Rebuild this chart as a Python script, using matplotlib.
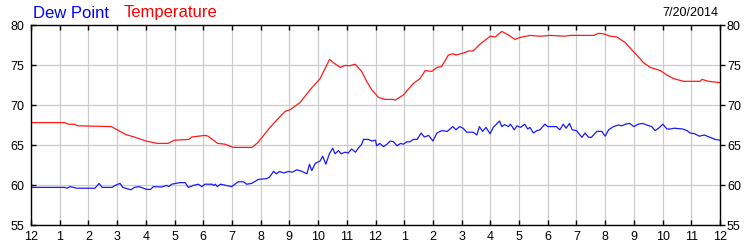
import matplotlib
matplotlib.use("Agg")
import matplotlib.pyplot as plt
from matplotlib.lines import TICKRIGHT

plt.rcParams["font.family"] = ["Liberation Sans", "DejaVu Sans"]

# hours since midnight
temp_hours = [0.0, 1.18, 1.3, 1.5, 1.64, 2.8, 3.3, 3.6, 4.0, 4.4, 4.77, 5.0, 5.5, 5.6,
              6.06, 6.17, 6.5, 6.76, 7.04, 7.7, 7.9, 8.26, 8.45, 8.85, 9.02, 9.37,
              9.72, 10.07, 10.4, 10.53, 10.77, 10.94, 11.1, 11.29, 11.52, 11.7,
              11.87, 12.1, 12.33, 12.62, 12.68, 12.97, 13.32, 13.55, 13.73, 13.96,
              14.14, 14.3, 14.54, 14.7, 14.8, 15.07, 15.24, 15.4, 15.64, 16.0,
              16.17, 16.4, 16.63, 16.86, 17.04, 17.39, 17.73, 18.08, 18.6, 18.78,
              19.6, 19.77, 19.94, 20.17, 20.41, 20.7, 20.98, 21.16, 21.33, 21.57,
              21.92, 22.15, 22.38, 22.73, 23.31, 23.37, 23.6, 24.0]
temperature = [67.8, 67.8, 67.6, 67.6, 67.4, 67.3, 66.3, 66.0, 65.5, 65.2, 65.2, 65.6,
               65.7, 66.0, 66.2, 66.1, 65.2, 65.1, 64.7, 64.7, 65.3, 66.9, 67.7,
               69.2, 69.4, 70.3, 71.9, 73.3, 75.7, 75.3, 74.7, 74.95, 74.9, 75.1,
               74.2, 72.9, 71.9, 70.96, 70.7, 70.7, 70.6, 71.25, 72.7, 73.3, 74.3,
               74.2, 74.7, 74.8, 76.25, 76.4, 76.25, 76.5, 76.75, 76.75, 77.6, 78.6,
               78.5, 79.2, 78.75, 78.2, 78.45, 78.7, 78.6, 78.7, 78.6, 78.7, 78.7,
               78.96, 78.9, 78.6, 78.5, 77.8, 76.7, 76.0, 75.3, 74.7, 74.3, 73.75,
               73.3, 72.96, 72.96, 73.2, 72.96, 72.8]

dew_hours = [0.0, 1.18, 1.25, 1.36, 1.59, 2.23, 2.37, 2.48, 2.83, 2.9, 3.1, 3.2, 3.48,
             3.6, 3.76, 4.03, 4.17, 4.26, 4.55, 4.73, 4.8, 4.9, 5.19, 5.37, 5.48,
             5.65, 5.83, 5.95, 6.06, 6.3, 6.37, 6.42, 6.49, 6.6, 6.99, 7.22, 7.4,
             7.51, 7.69, 7.92, 8.2, 8.3, 8.45, 8.55, 8.66, 8.8, 8.97, 9.1, 9.26,
             9.44, 9.61, 9.7, 9.78, 9.9, 10.07, 10.16, 10.27, 10.4, 10.51, 10.59,
             10.71, 10.8, 10.94, 11.05, 11.17, 11.3, 11.4, 11.52, 11.58, 11.75,
             11.87, 12.0, 12.04, 12.15, 12.28, 12.4, 12.51, 12.63, 12.75, 12.87,
             12.97, 13.09, 13.2, 13.32, 13.45, 13.59, 13.7, 13.85, 14.0, 14.14,
             14.31, 14.5, 14.69, 14.8, 14.93, 15.05, 15.18, 15.4, 15.53, 15.62,
             15.73, 15.85, 15.99, 16.1, 16.32, 16.4, 16.5, 16.63, 16.7, 16.76,
             16.83, 16.93, 17.05, 17.2, 17.3, 17.38, 17.5, 17.62, 17.73, 17.9,
             18.0, 18.3, 18.42, 18.54, 18.64, 18.76, 18.85, 19.0, 19.19, 19.3,
             19.42, 19.52, 19.71, 19.88, 20.0, 20.12, 20.29, 20.46, 20.58, 20.7,
             20.85, 21.0, 21.15, 21.31, 21.45, 21.62, 21.74, 21.86, 22.01, 22.15,
             22.27, 22.4, 22.7, 22.85, 22.96, 23.12, 23.28, 23.45, 23.62, 23.83,
             24.0]
dew_point = [59.7, 59.7, 59.6, 59.8, 59.6, 59.6, 60.2, 59.7, 59.7, 59.9, 60.2, 59.7,
             59.4, 59.7, 59.8, 59.45, 59.45, 59.8, 59.75, 59.95, 59.8, 60.1, 60.3,
             60.3, 59.7, 59.95, 60.1, 59.8, 60.1, 60.1, 59.95, 60.1, 59.8, 60.1,
             59.8, 60.4, 60.4, 60.1, 60.2, 60.7, 60.8, 60.95, 61.7, 61.4, 61.7,
             61.5, 61.7, 61.6, 61.9, 61.7, 61.4, 62.6, 61.8, 62.7, 63.0, 63.6,
             62.6, 63.96, 64.6, 63.9, 64.3, 63.9, 64.1, 64.0, 64.5, 64.1, 64.6,
             65.1, 65.7, 65.7, 65.5, 65.6, 64.9, 65.2, 64.8, 65.1, 65.5, 65.4,
             64.9, 65.2, 65.1, 65.4, 65.4, 65.7, 65.7, 66.5, 66.0, 66.2, 65.5,
             66.5, 66.8, 66.7, 67.3, 66.9, 67.3, 67.1, 66.6, 66.6, 66.25, 67.3,
             66.7, 67.2, 66.4, 67.2, 68.0, 67.3, 67.55, 67.3, 67.6, 67.3, 66.9,
             67.4, 67.2, 67.6, 67.0, 67.2, 66.5, 66.8, 66.9, 67.6, 67.3, 67.3,
             66.9, 67.6, 67.1, 67.7, 66.9, 66.8, 65.96, 66.5, 65.96, 65.96, 66.7,
             66.7, 66.1, 66.9, 67.3, 67.5, 67.4, 67.6, 67.7, 67.3, 67.6, 67.7,
             67.5, 67.3, 66.8, 67.1, 67.6, 67.0, 67.0, 67.1, 67.0, 66.8, 66.5,
             66.4, 66.1, 66.25, 66.0, 65.7, 65.6]

hour_ticks = list(range(0, 25))
hour_labels = ["12", "1", "2", "3", "4", "5", "6", "7", "8", "9", "10", "11",
               "12", "1", "2", "3", "4", "5", "6", "7", "8", "9", "10", "11", "12"]
y_ticks = [55, 60, 65, 70, 75, 80]
date_label = "7/20/2014"

fig = plt.figure(figsize=(7.5, 2.5), dpi=100)
ax = fig.add_axes([31 / 750, 0.1, 689 / 750, 0.8])

ax.plot(dew_hours, dew_point, color="#1a1aff", linewidth=0.9)
ax.plot(temp_hours, temperature, color="#ff1a1a", linewidth=0.9)

ax.set_xlim(0, 24)
ax.set_ylim(55, 80)
ax.set_xticks(hour_ticks)
ax.set_xticklabels(hour_labels)
ax.set_yticks(y_ticks)
ax.grid(True, color="#cccccc", linewidth=0.9)
ax.set_axisbelow(True)

for spine in ax.spines.values():
    spine.set_color("black")
    spine.set_linewidth(1.0)

# all ticks inward, except right-hand y ticks which point outward
ax.tick_params(axis="x", bottom=True, top=True, direction="in", length=3.5,
               width=1, labelsize=9, pad=4, colors="black")
ax.tick_params(axis="y", left=True, right=True, labelleft=True, labelright=True,
               direction="in", length=3.5, width=1, labelsize=9, pad=5,
               colors="black")
for tick in ax.yaxis.get_major_ticks():
    tick.tick2line.set_marker(TICKRIGHT)

fig.text(33 / 750, 1 - 13 / 250, "Dew Point", color="#0000ff", fontsize=12,
         va="center", ha="left")
fig.text(124 / 750, 1 - 13 / 250, "Temperature", color="#ff0000", fontsize=12,
         va="center", ha="left")
fig.text(718 / 750, 1 - 13 / 250, date_label, color="black", fontsize=9,
         va="center", ha="right")

fig.savefig("out.png", dpi=100)
